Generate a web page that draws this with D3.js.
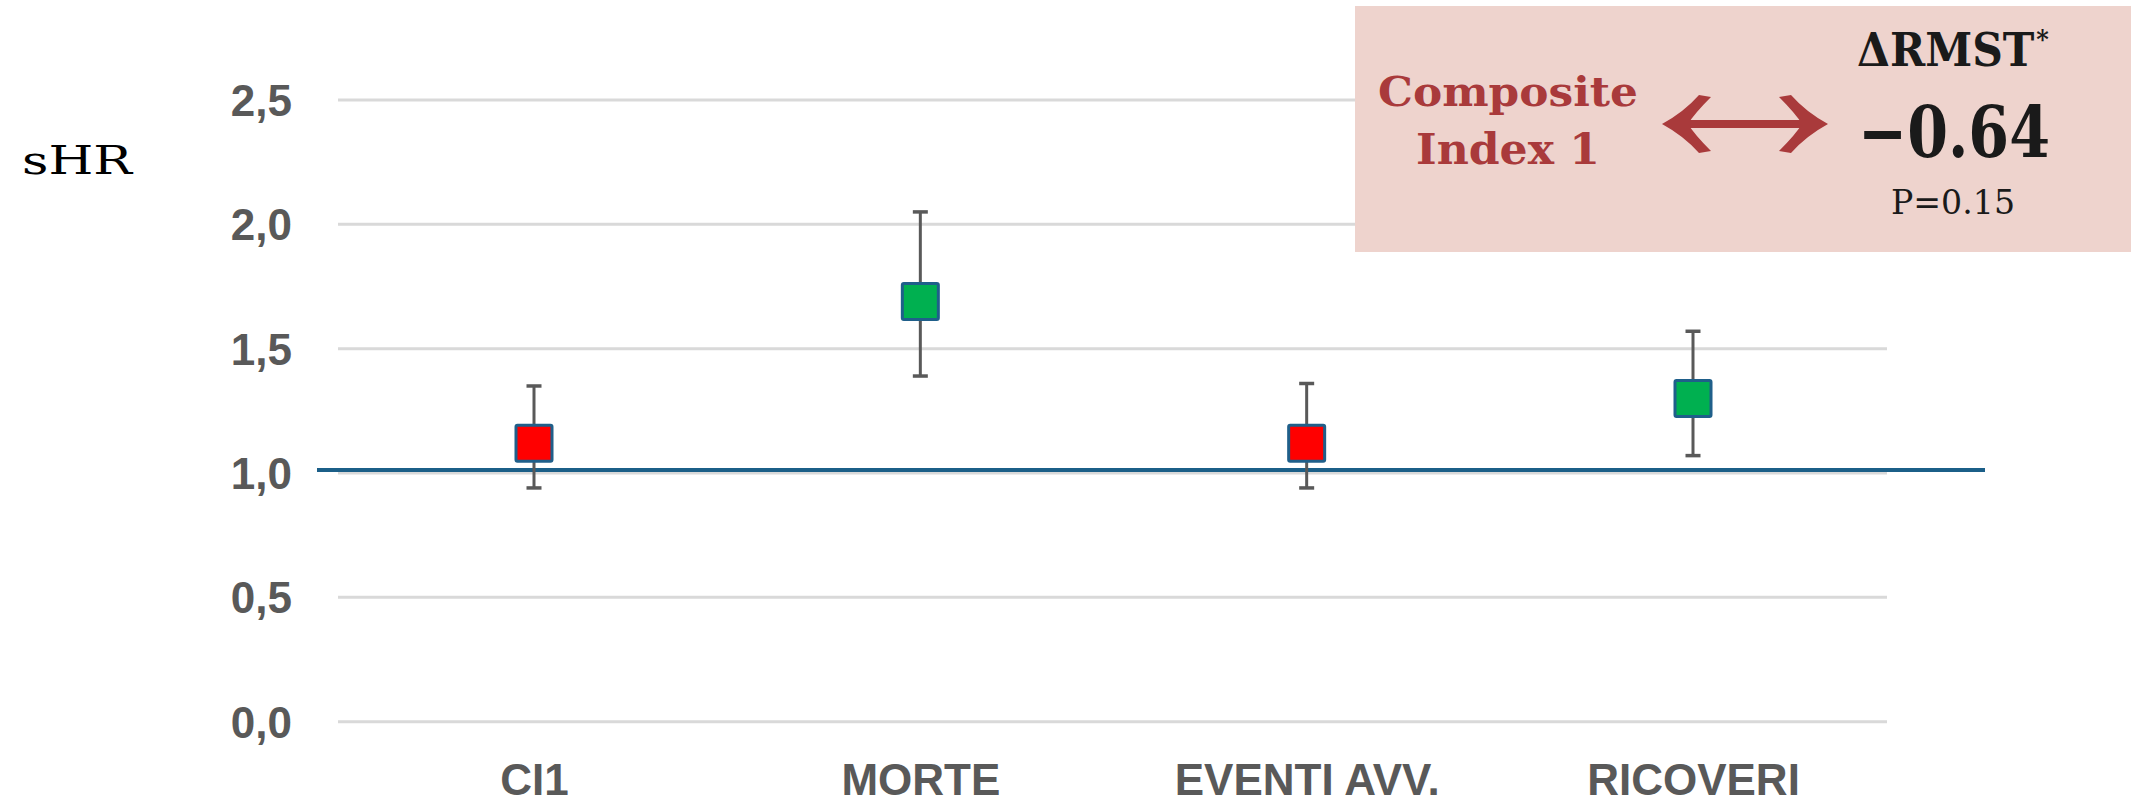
<!DOCTYPE html>
<html>
<head>
<meta charset="utf-8">
<script src="https://cdn.jsdelivr.net/npm/d3@7"></script>
<style>
  html, body { margin: 0; padding: 0; background: #ffffff; }
  svg { display: block; }
</style>
</head>
<body>
<script>
// Sub-distribution hazard ratios with confidence intervals, per outcome
const categories = ["CI1", "MORTE", "EVENTI AVV.", "RICOVERI"];
const shr    = [1.12, 1.69, 1.12, 1.30];
const ciLow  = [0.94, 1.39, 0.94, 1.07];
const ciHigh = [1.35, 2.05, 1.36, 1.57];
const markerColors = ["#ff0000", "#00b050", "#ff0000", "#00b050"];
const yTicks = [0, 0.5, 1, 1.5, 2, 2.5];
const referenceValue = 1;

// Annotation panel text
const panelLeft = ["Composite", "Index 1"];
const panelTitle = "ΔRMST";
const panelTitleMark = "*";
const panelValue = "−0.64";
const panelP = "P=0.15";

const W = 2134, H = 805;
const svg = d3.select("body").append("svg")
  .attr("width", W).attr("height", H)
  .attr("viewBox", `0 0 ${W} ${H}`);

const grid = { x0: 338, x1: 1887 };
const y = d3.scaleLinear().domain([0, 2.5]).range([721.7, 100]);
const x = d3.scalePoint().domain(categories).range([534, 1693]);

const itLocale = d3.formatLocale({ decimal: ",", thousands: ".", grouping: [3], currency: ["€", ""] });
const fmt = itLocale.format(".1f");

const grey = "#595959";

// horizontal gridlines
svg.append("g").selectAll("line").data(yTicks).join("line")
  .attr("x1", grid.x0).attr("x2", grid.x1)
  .attr("y1", d => y(d)).attr("y2", d => y(d))
  .attr("stroke", "#d9d9d9").attr("stroke-width", 3);

// y tick labels via axis generator, domain path removed
const yAxis = d3.axisLeft(y).tickValues(yTicks).tickFormat(fmt).tickSize(0).tickPadding(0);
const gy = svg.append("g").attr("transform", "translate(292,0)").call(yAxis);
gy.select(".domain").remove();
gy.selectAll("text")
  .attr("fill", grey)
  .attr("font-family", "'Liberation Sans', Arial, sans-serif")
  .attr("font-weight", "bold")
  .attr("font-size", 44)
  .attr("dy", "0.35em");

// reference line at sHR = 1
svg.append("line")
  .attr("x1", 317).attr("x2", 1985)
  .attr("y1", y(referenceValue) - 3).attr("y2", y(referenceValue) - 3)
  .attr("stroke", "#1b5f88").attr("stroke-width", 4);

// x category labels
const xAxis = d3.axisBottom(x).tickSize(0).tickPadding(0);
const gx = svg.append("g").attr("transform", "translate(0,764)").call(xAxis);
gx.select(".domain").remove();
gx.selectAll("text")
  .attr("fill", grey)
  .attr("font-family", "'Liberation Sans', Arial, sans-serif")
  .attr("font-weight", "bold")
  .attr("font-size", 44)
  .attr("dy", "0.71em")
  .attr("y", 0);

// error bars and markers
const rows = categories.map((c, i) => ({ c, v: shr[i], lo: ciLow[i], hi: ciHigh[i], col: markerColors[i] }));
const capHalf = 7.5;
const gEb = svg.append("g");
gEb.selectAll("line.whisker").data(rows).join("line")
  .attr("class", "whisker")
  .attr("x1", d => x(d.c)).attr("x2", d => x(d.c))
  .attr("y1", d => y(d.lo)).attr("y2", d => y(d.hi))
  .attr("stroke", grey).attr("stroke-width", 3);
gEb.selectAll("line.capHi").data(rows).join("line")
  .attr("class", "capHi")
  .attr("x1", d => x(d.c) - capHalf).attr("x2", d => x(d.c) + capHalf)
  .attr("y1", d => y(d.hi)).attr("y2", d => y(d.hi))
  .attr("stroke", grey).attr("stroke-width", 3.5);
gEb.selectAll("line.capLo").data(rows).join("line")
  .attr("class", "capLo")
  .attr("x1", d => x(d.c) - capHalf).attr("x2", d => x(d.c) + capHalf)
  .attr("y1", d => y(d.lo)).attr("y2", d => y(d.lo))
  .attr("stroke", grey).attr("stroke-width", 3.5);

const mk = 36;
svg.append("g").selectAll("rect").data(rows).join("rect")
  .attr("x", d => x(d.c) - mk / 2).attr("y", d => y(d.v) - mk / 2)
  .attr("width", mk).attr("height", mk)
  .attr("rx", 1.5)
  .attr("fill", d => d.col)
  .attr("stroke", "#1f5f8a").attr("stroke-width", 3);

// sHR axis title
svg.append("text")
  .attr("x", 22).attr("y", 174)
  .attr("font-family", "'DejaVu Serif', 'Liberation Serif', serif")
  .attr("font-size", 40)
  .attr("textLength", 110).attr("lengthAdjust", "spacingAndGlyphs")
  .attr("fill", "#000")
  .text("sHR");

// annotation panel
const panel = svg.append("g");
panel.append("rect")
  .attr("x", 1355).attr("y", 6).attr("width", 776).attr("height", 246)
  .attr("fill", "#eed3cd");

const serif = "'DejaVu Serif', 'Liberation Serif', serif";
const red = "#a93a3b";
panel.append("text")
  .attr("x", 1508).attr("y", 106).attr("text-anchor", "middle")
  .attr("font-family", serif).attr("font-weight", "bold").attr("font-size", 41)
  .attr("fill", red)
  .attr("textLength", 260).attr("lengthAdjust", "spacingAndGlyphs")
  .text(panelLeft[0]);
panel.append("text")
  .attr("x", 1508).attr("y", 164).attr("text-anchor", "middle")
  .attr("font-family", serif).attr("font-weight", "bold").attr("font-size", 42)
  .attr("fill", red)
  .attr("textLength", 184).attr("lengthAdjust", "spacingAndGlyphs")
  .text(panelLeft[1]);

// double-headed arrow
const headPath = "M1662,124 Q1684,112 1699,95 L1711,97 Q1694,114 1688,124 Q1694,134 1711,151 L1699,153 Q1684,136 1662,124 Z";
panel.append("path").attr("d", headPath).attr("fill", red);
panel.append("path").attr("d", headPath).attr("fill", red)
  .attr("transform", "translate(3490,0) scale(-1,1)");
panel.append("rect")
  .attr("x", 1672).attr("y", 120).attr("width", 146).attr("height", 8)
  .attr("fill", red);

// title with superscript mark, squeezed horizontally to the panel column
const title = panel.append("text")
  .attr("font-family", serif).attr("font-weight", "bold").attr("font-size", 46)
  .attr("fill", "#1a1a1a");
title.append("tspan").text(panelTitle);
title.append("tspan").attr("font-size", 26).attr("dx", 2).attr("dy", -18).text(panelTitleMark);
const natural = title.node().getComputedTextLength();
title.attr("transform", `translate(1857,66) scale(${190 / natural},1)`);

panel.append("text")
  .attr("x", 1954).attr("y", 157).attr("text-anchor", "middle")
  .attr("font-family", serif).attr("font-weight", "bold").attr("font-size", 71)
  .attr("fill", "#1a1a1a")
  .attr("textLength", 192).attr("lengthAdjust", "spacingAndGlyphs")
  .text(panelValue);
panel.append("text")
  .attr("x", 1953).attr("y", 214).attr("text-anchor", "middle")
  .attr("font-family", serif).attr("font-size", 34)
  .attr("fill", "#1a1a1a")
  .attr("textLength", 124).attr("lengthAdjust", "spacingAndGlyphs")
  .text(panelP);
</script>
</body>
</html>
